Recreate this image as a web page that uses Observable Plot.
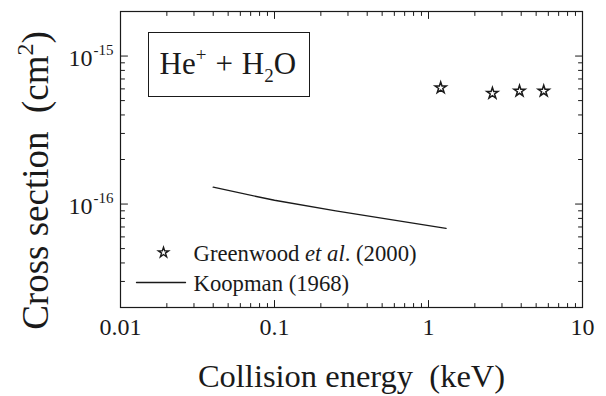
<!DOCTYPE html>
<html><head><meta charset="utf-8">
<script src="https://cdn.jsdelivr.net/npm/d3@7"></script>
<script src="https://cdn.jsdelivr.net/npm/@observablehq/plot@0.6"></script>
<style>
html,body{margin:0;padding:0;background:#fff;}
#chart{width:606px;height:396px;overflow:hidden;}
</style></head><body><div id="chart"></div>
<script>
// Greenwood et al. (2000) — stars
const greenwoodEnergy = [1.2, 2.6, 3.9, 5.6];
const greenwoodCross = [6.1e-16, 5.6e-16, 5.8e-16, 5.8e-16];
// Koopman (1968) — line
const koopmanEnergy = [0.04, 0.1, 0.25, 1.3];
const koopmanCross = [1.30e-16, 1.06e-16, 9.0e-17, 6.85e-17];
// axes
const xDomain = [0.01, 10];
const yDomain = [2e-17, 2e-15];
const xMajorTicks = [0.01, 0.1, 1, 10];
const xTickLabels = ["0.01", "0.1", "1", "10"];
const xMinorTicks = [0.02, 0.03, 0.04, 0.05, 0.06, 0.07, 0.08, 0.09,
                     0.2, 0.3, 0.4, 0.5, 0.6, 0.7, 0.8, 0.9,
                     2, 3, 4, 5, 6, 7, 8, 9];
const yMajorTicks = [1e-16, 1e-15];
const yTickBase = ["10", "10"];
const yTickExponents = ["-16", "-15"];
const yMinorTicks = [3e-17, 4e-17, 5e-17, 6e-17, 7e-17, 8e-17, 9e-17,
                     2e-16, 3e-16, 4e-16, 5e-16, 6e-16, 7e-16, 8e-16, 9e-16];
const xTitle = "Collision energy\u00a0 (keV)";
const yTitle = "Cross section\u00a0 (cm2)";
const boxTitle = "He+ + H2O";
const legendLabels = ["Greenwood et al. (2000)", "Koopman (1968)"];

const greenwood = greenwoodEnergy.map((e, i) => ({e, s: greenwoodCross[i]}));
const koopman = koopmanEnergy.map((e, i) => ({e, s: koopmanCross[i]}));

const ink = "#1a1a1a";
const serif = "Liberation Serif, Times New Roman, serif";
const tickShape = {draw(ctx, l) { ctx.moveTo(0, 0); ctx.lineTo(0, -l); }};
const ticks = (data, side, len) => {
  const opts = {shape: tickShape, anchor: "start", length: len, stroke: ink, strokeWidth: 1};
  if (side === "bottom") return Plot.vector(data, {...opts, x: d => d, y: () => yDomain[0], rotate: 0});
  if (side === "top") return Plot.vector(data, {...opts, x: d => d, y: () => yDomain[1], rotate: 180});
  if (side === "left") return Plot.vector(data, {...opts, y: d => d, x: () => xDomain[0], rotate: 90});
  return Plot.vector(data, {...opts, y: d => d, x: () => xDomain[1], rotate: -90});
};
const txt = {fontFamily: serif, fill: ink};

const svg = Plot.plot({
  width: 606, height: 396,
  marginLeft: 120, marginRight: 24, marginTop: 11, marginBottom: 89,
  x: {type: "log", domain: xDomain, axis: null},
  y: {type: "log", domain: yDomain, axis: null},
  style: {fontFamily: serif, background: "white", color: ink, overflow: "visible"},
  marks: [
    Plot.frame({stroke: ink, strokeWidth: 1.2}),
    ticks(xMajorTicks, "bottom", 7), ticks(xMinorTicks, "bottom", 4),
    ticks(xMajorTicks, "top", 7), ticks(xMinorTicks, "top", 4),
    ticks(yMajorTicks, "left", 7), ticks(yMinorTicks, "left", 4),
    ticks(yMajorTicks, "right", 7), ticks(yMinorTicks, "right", 4),
    // x tick labels
    Plot.text(xMajorTicks, {...txt, x: d => d, y: () => yDomain[0], text: (d, i) => xTickLabels[i],
      dy: 27, lineAnchor: "bottom", fontSize: 24}),
    // y tick labels: base and exponent
    Plot.text(yMajorTicks, {...txt, x: () => xDomain[0], y: d => d, text: (d, i) => yTickBase[i],
      textAnchor: "end", dx: -28, dy: 10, lineAnchor: "bottom", fontSize: 24}),
    Plot.text(yMajorTicks, {...txt, x: () => xDomain[0], y: d => d, text: (d, i) => yTickExponents[i],
      textAnchor: "end", dx: -7, dy: -1, lineAnchor: "bottom", fontSize: 15}),
    // axis titles
    Plot.text([xTitle], {...txt, frameAnchor: "bottom", textAnchor: "middle", dy: 79, lineAnchor: "bottom", fontSize: 32.5}),
    Plot.text([yTitle], {...txt, frameAnchor: "left", textAnchor: "middle", rotate: -90, dx: -73, dy: 21,
      lineAnchor: "bottom", fontSize: 37, ariaDescription: "ytitle"}),
    // box with reaction label
    Plot.frame({insetLeft: 28, insetTop: 21, insetRight: 273, insetBottom: 211, stroke: ink, strokeWidth: 1}),
    Plot.text([boxTitle], {...txt, frameAnchor: "top-left", dx: 39, dy: 62, lineAnchor: "bottom", textAnchor: "start",
      fontSize: 31, ariaDescription: "boxtitle"}),
    // data
    Plot.line(koopman, {x: "e", y: "s", stroke: ink, strokeWidth: 1.4}),
    Plot.dot(greenwood, {x: "e", y: "s", symbol: "star", r: 3.5, fill: "white", stroke: ink, strokeWidth: 1.5}),
    // legend
    Plot.dot([legendLabels[0]], {frameAnchor: "top-left", dx: 43, dy: 241, symbol: "star", r: 3.2,
      fill: "white", stroke: ink, strokeWidth: 1.4}),
    Plot.text([legendLabels[0]], {...txt, frameAnchor: "top-left", dx: 73, dy: 249, lineAnchor: "bottom",
      textAnchor: "start", fontSize: 22.7, ariaDescription: "leg1"}),
    Plot.vector([legendLabels[1]], {frameAnchor: "top-left", dx: 16, dy: 271, rotate: 90, anchor: "start",
      length: 49, shape: tickShape, stroke: ink, strokeWidth: 1.3}),
    Plot.text([legendLabels[1]], {...txt, frameAnchor: "top-left", dx: 73, dy: 279, lineAnchor: "bottom",
      textAnchor: "start", fontSize: 22.7})
  ]
});
document.getElementById("chart").appendChild(svg);

function rich(label, parts) {
  const t = d3.select(svg).select(`g[aria-description="${label}"] text`);
  if (t.empty()) return;
  t.text(null);
  let shift = 0;
  for (const p of parts) {
    const ts = t.append("tspan").text(p.t);
    const target = p.shift || 0;
    if (target !== shift) { ts.attr("dy", target - shift); shift = target; }
    if (p.size) ts.attr("font-size", p.size);
    if (p.italic) ts.attr("font-style", "italic");
    if (p.dx) ts.attr("dx", p.dx);
  }
}
rich("ytitle", [{t: "Cross section\u00a0 (cm"}, {t: "2", size: 24, shift: -15}, {t: ")"}]);
rich("boxtitle", [{t: "He"}, {t: "+", size: 19, shift: -13}, {t: "+", dx: 9}, {t: "H", dx: 9},
  {t: "2", size: 19, shift: 8}, {t: "O"}]);
rich("leg1", [{t: "Greenwood "}, {t: "et al", italic: true}, {t: ". (2000)"}]);
</script>
</body></html>
